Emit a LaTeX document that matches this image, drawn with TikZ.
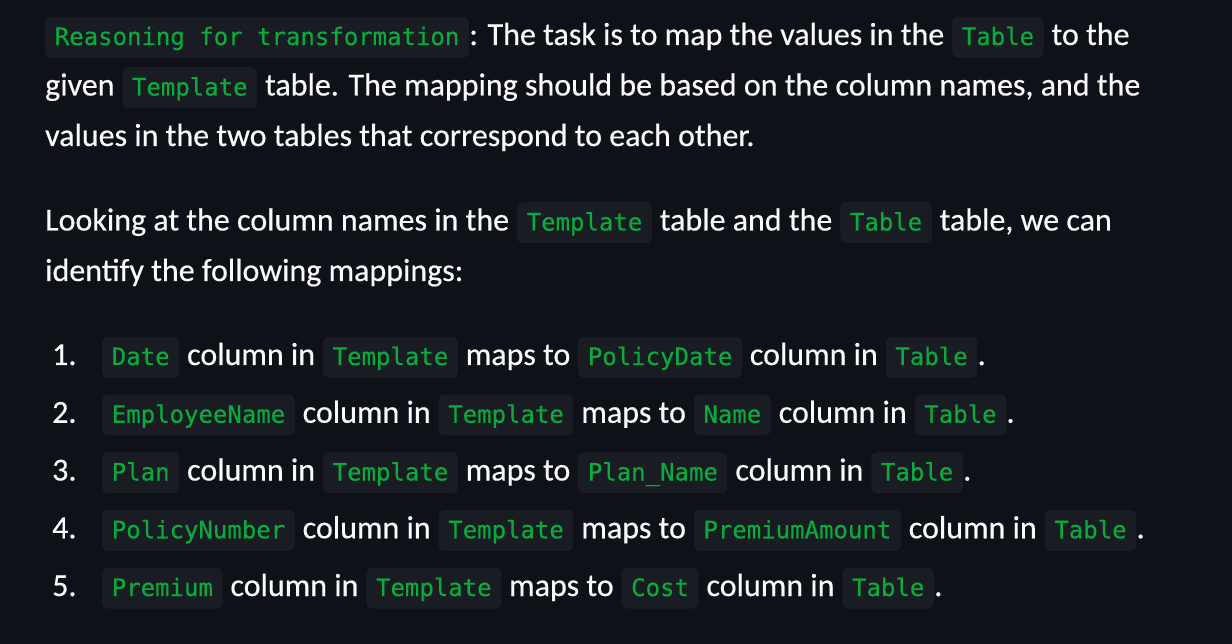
\documentclass[tikz,border=0pt]{standalone}
\usepackage{fontspec}
\setmainfont{Carlito}
\newfontfamily\bodyfont[FakeBold=0.4]{Carlito}
\newfontfamily\codefont[FakeBold=0.3]{DejaVu Sans Mono}

\definecolor{pagebg}{HTML}{0E1117}
\definecolor{codebg}{HTML}{1A1C23}
\definecolor{codegreen}{HTML}{09AB3B}
\definecolor{fg}{HTML}{FAFAFA}

\def\gap{7.5pt}
\tikzset{
  txt/.style={anchor=base west, inner sep=0pt, text=fg,
    font=\bodyfont\fontsize{32}{38}\selectfont},
  code/.style={anchor=base west, inner xsep=9.6pt, inner ysep=0pt,
    text height=28.3pt, text depth=12.7pt, fill=codebg,
    rounded corners=6pt, text=codegreen,
    font=\codefont\fontsize{24}{30}\selectfont},
}

\begin{document}
\begin{tikzpicture}[x=1pt, y=-1pt]
\fill[pagebg] (0,0) rectangle (1232,644);
\useasboundingbox (0,0) rectangle (1232,644);

% first paragraph
\node[code] (reason) at (45,45) {Reasoning for transformation};
\node[txt] (p1a) at (reason.base east) {: The task is to map the values in the};
\node[code, xshift=\gap] (p1tab) at (p1a.base east) {Table};
\node[txt, xshift=\gap] (p1b) at (p1tab.base east) {to the};
\node[txt] (p2a) at (45,95.5) {given};
\node[code, xshift=\gap] (p2tpl) at (p2a.base east) {Template};
\node[txt, xshift=\gap] (p2b) at (p2tpl.base east) {table. The mapping should be based on the column names, and the};
\node[txt] (p3a) at (45,146) {values in the two tables that correspond to each other.};

% second paragraph
\node[txt] (q1a) at (45,230.5) {Looking at the column names in the};
\node[code, xshift=\gap] (q1tpl) at (q1a.base east) {Template};
\node[txt, xshift=\gap] (q1b) at (q1tpl.base east) {table and the};
\node[code, xshift=\gap] (q1tab) at (q1b.base east) {Table};
\node[txt, xshift=\gap] (q1c) at (q1tab.base east) {table, we can};
\node[txt] (q2a) at (45,281) {identify the following mappings:};

% list of mappings
\foreach \n/\src/\dst in {1/Date/PolicyDate, 2/EmployeeName/Name,
    3/Plan/Plan\_Name, 4/PolicyNumber/PremiumAmount, 5/Premium/Cost}{
  \pgfmathsetmacro{\yy}{365+(\n-1)*57.75}
  \node[txt] (num\n) at (52,\yy) {\n.};
  \node[code] (src\n) at (102,\yy) {\src};
  \node[txt, xshift=\gap] (cola\n) at (src\n.base east) {column in};
  \node[code, xshift=\gap] (tpl\n) at (cola\n.base east) {Template};
  \node[txt, xshift=\gap] (maps\n) at (tpl\n.base east) {maps to};
  \node[code, xshift=\gap] (dst\n) at (maps\n.base east) {\dst};
  \node[txt, xshift=\gap] (colb\n) at (dst\n.base east) {column in};
  \node[code, xshift=\gap] (tab\n) at (colb\n.base east) {Table};
  \node[txt] (dot\n) at (tab\n.base east) {.};
}
\end{tikzpicture}
\end{document}
